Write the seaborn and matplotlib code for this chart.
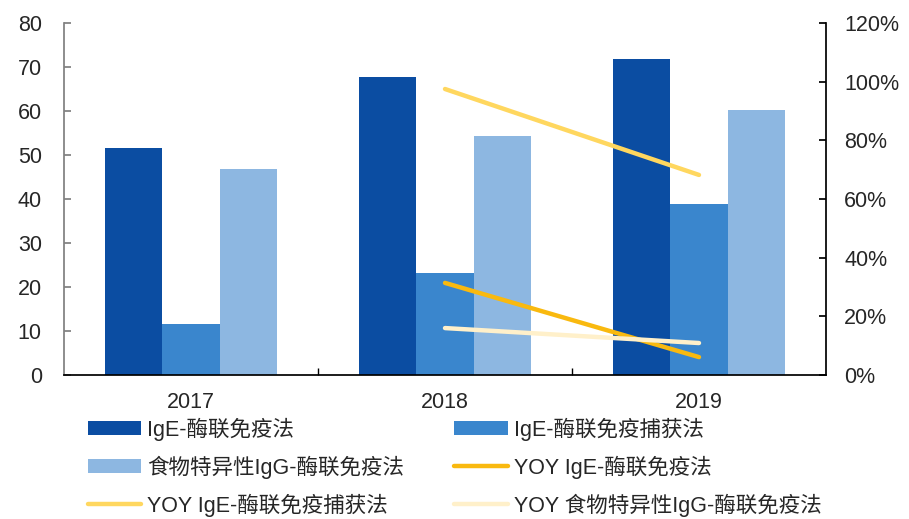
import numpy as np
import pandas as pd
import matplotlib
matplotlib.use('Agg')
import matplotlib.pyplot as plt
import seaborn as sns
from matplotlib.ticker import FuncFormatter, FixedLocator
from matplotlib.patches import Patch
from matplotlib.lines import Line2D

years = ['2017', '2018', '2019']
bar_names = ['IgE-酶联免疫法', 'IgE-酶联免疫捕获法', '食物特异性IgG-酶联免疫法']
ige_elisa = [51.6, 67.7, 71.8]
ige_capture = [11.6, 23.2, 38.9]
igg_food = [46.8, 54.3, 60.2]

yoy_years = ['2018', '2019']
yoy_names = ['YOY IgE-酶联免疫法', 'YOY IgE-酶联免疫捕获法', 'YOY 食物特异性IgG-酶联免疫法']
yoy_ige_elisa = [0.314, 0.061]
yoy_ige_capture = [0.975, 0.682]
yoy_igg_food = [0.160, 0.109]

bar_colors = ['#0B4DA2', '#3A86CD', '#8DB7E1']
line_colors = ['#F9B90F', '#FFD75F', '#FFF0CA']

sns.set_theme(style='white')
plt.rcParams['font.family'] = ['Liberation Sans', 'Noto Sans CJK SC', 'DejaVu Sans']
fs = 15.5

bars = pd.DataFrame({
    'year': years * 3,
    'value': ige_elisa + ige_capture + igg_food,
    'name': [n for n in bar_names for _ in years],
})

fig = plt.figure(figsize=(9.09, 5.19), dpi=100)
ax = fig.add_axes([64 / 909, 1 - 375 / 519, (826 - 64) / 909, (375 - 23) / 519])

sns.barplot(data=bars, x='year', y='value', hue='name', hue_order=bar_names,
            palette=bar_colors, width=0.675, saturation=1, linewidth=0,
            ax=ax, legend=False)
ax.set_xlim(-0.5, 2.5)
ax.set_ylim(0, 80)
ax.set_yticks(range(0, 81, 10))
ax.set_xlabel('')
ax.set_ylabel('')
ax.tick_params(axis='y', direction='in', length=5, pad=16, labelsize=fs, left=True, color='#808080')
ax.tick_params(axis='x', which='major', length=0, pad=12, labelsize=fs)
ax.xaxis.set_minor_locator(FixedLocator([0.5, 1.5]))
ax.tick_params(axis='x', which='minor', direction='in', length=5, bottom=True, color='black')
for s in ['top', 'right']:
    ax.spines[s].set_visible(False)
ax.spines['left'].set_color('#808080')
ax.spines['bottom'].set_color('black')

ax2 = ax.twinx()
yoy = pd.DataFrame({
    'year': [1, 2] * 3,
    'value': yoy_ige_elisa + yoy_ige_capture + yoy_igg_food,
    'name': [n for n in yoy_names for _ in yoy_years],
})
sns.lineplot(data=yoy, x='year', y='value', hue='name', hue_order=yoy_names,
             palette=line_colors, linewidth=3.2, ax=ax2, legend=False)
for ln in ax2.get_lines():
    ln.set_solid_capstyle('round')
ax2.set_xlim(-0.5, 2.5)
ax2.set_ylim(0, 1.2)
ax2.set_yticks(np.arange(0, 1.21, 0.2))
ax2.yaxis.set_major_formatter(FuncFormatter(lambda v, p: f'{v * 100:.0f}%'))
ax2.set_xlabel('')
ax2.set_ylabel('')
ax2.tick_params(axis='y', direction='in', length=5, pad=13, labelsize=fs, right=True, color='black')
for s in ['top', 'left', 'bottom']:
    ax2.spines[s].set_visible(False)
ax2.spines['right'].set_color('black')

h_bars = [Patch(facecolor=c, edgecolor='none') for c in bar_colors]
h_lines = [Line2D([], [], color=c, linewidth=3.2) for c in line_colors]
labels = bar_names + yoy_names
handles = h_bars + h_lines
# column-major ordering so the legend reads row by row
order = [0, 2, 4, 1, 3, 5]
fig.legend([handles[i] for i in order], [labels[i] for i in order],
           loc='upper left', bbox_to_anchor=(79 / 909, 1 - 409 / 519), ncol=2,
           frameon=False, fontsize=fs, handlelength=2.5, handleheight=0.6,
           handletextpad=0.25, columnspacing=2.35, labelspacing=0.68, borderaxespad=0)

fig.savefig('out.png', dpi=100)
